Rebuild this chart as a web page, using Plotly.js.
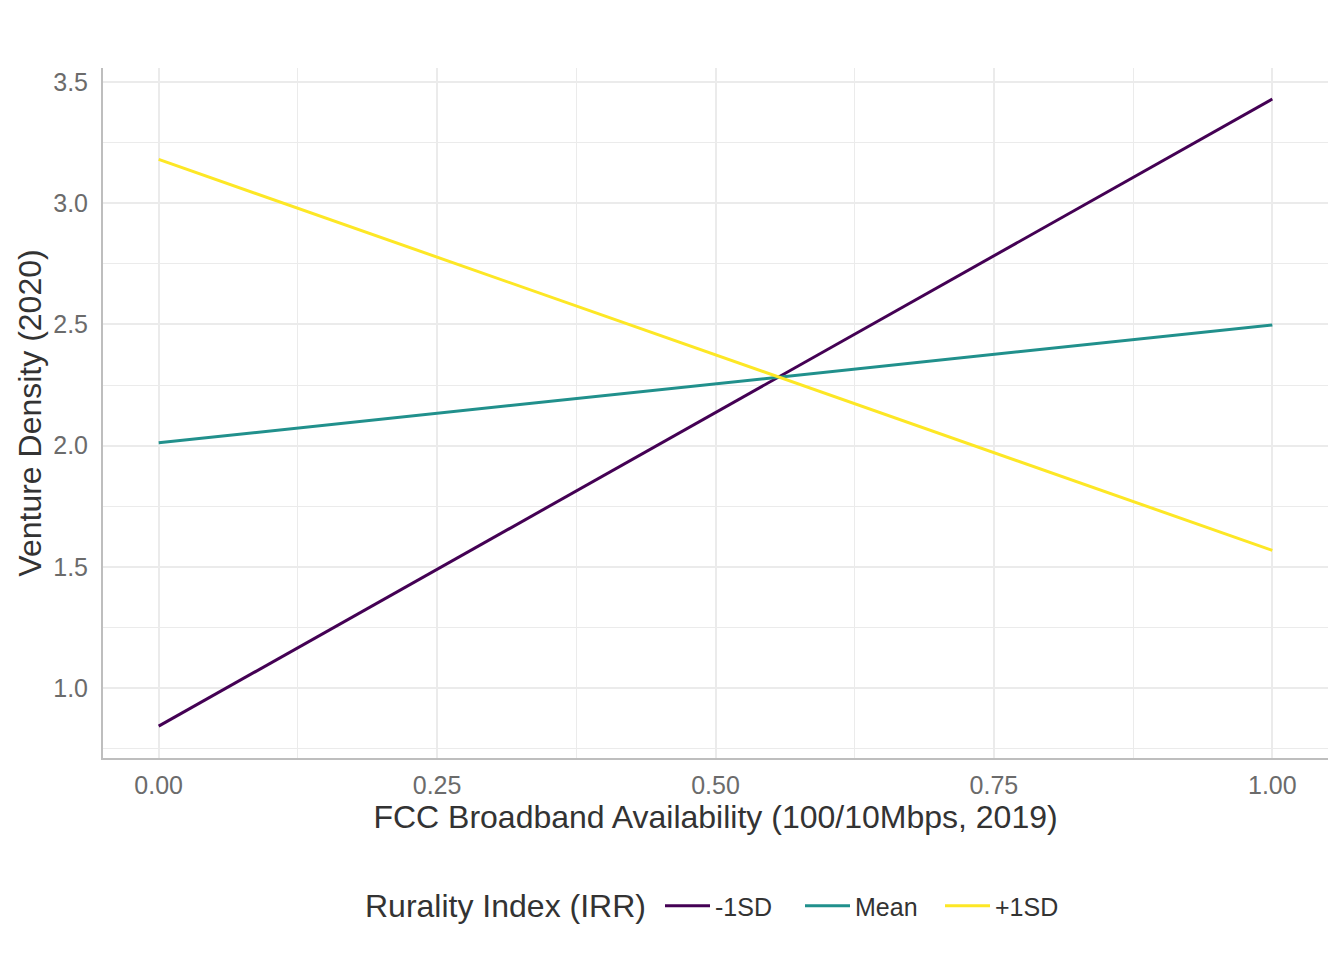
<!DOCTYPE html>
<html>
<head>
<meta charset="utf-8">
<script src="https://cdn.plot.ly/plotly-3.0.1.min.js"></script>
<style>html,body{margin:0;padding:0;background:#fff;} #chart{width:1344px;height:960px;}</style>
</head>
<body>
<div id="chart"></div>
<script>
// Data
const broadband = [0, 1];
const seriesNames = ["-1SD", "Mean", "+1SD"];
const lowSD = [0.843, 3.43];
const meanSD = [2.012, 2.498];
const highSD = [3.181, 1.568];
const seriesColors = ["#440154", "#21908C", "#FDE725"];
const xTicks = [0, 0.25, 0.5, 0.75, 1];
const xTickLabels = ["0.00", "0.25", "0.50", "0.75", "1.00"];
const yTicks = [1.0, 1.5, 2.0, 2.5, 3.0, 3.5];
const yTickLabels = ["1.0", "1.5", "2.0", "2.5", "3.0", "3.5"];
const legendTitle = "Rurality Index (IRR)";

const values = [lowSD, meanSD, highSD];
const traces = values.map((v, i) => ({
  x: broadband,
  y: v,
  type: "scatter",
  mode: "lines",
  name: seriesNames[i],
  line: {color: seriesColors[i], width: 3}
}));

const font = "Liberation Sans, Arial, Helvetica, sans-serif";
const layout = {
  width: 1344,
  height: 960,
  paper_bgcolor: "#ffffff",
  plot_bgcolor: "#ffffff",
  margin: {l: 103, r: 16, t: 68, b: 202},
  font: {family: font, color: "#4d4d4d"},
  xaxis: {
    range: [-0.05, 1.05],
    tickvals: xTicks,
    ticktext: xTickLabels,
    ticks: "",
    ticklabelstandoff: 4,
    tickfont: {size: 25, color: "#6b6b6b", family: font},
    showgrid: true,
    gridcolor: "#ebebeb",
    gridwidth: 2,
    minor: {dtick: 0.125, showgrid: true, gridcolor: "#ebebeb", gridwidth: 1, ticks: ""},
    zeroline: false,
    showline: true,
    linecolor: "#bebebe",
    linewidth: 2,
    title: {text: "FCC Broadband Availability (100/10Mbps, 2019)", font: {size: 32, color: "#333333", family: font}, standoff: 6}
  },
  yaxis: {
    range: [0.7115, 3.558],
    tickvals: yTicks,
    ticktext: yTickLabels,
    ticks: "",
    ticklabelstandoff: 8,
    tickfont: {size: 25, color: "#6b6b6b", family: font},
    showgrid: true,
    gridcolor: "#ebebeb",
    gridwidth: 2,
    minor: {dtick: 0.25, showgrid: true, gridcolor: "#ebebeb", gridwidth: 1, ticks: ""},
    zeroline: false,
    showline: true,
    linecolor: "#bebebe",
    linewidth: 2,
    title: {text: "Venture Density (2020)", font: {size: 32, color: "#333333", family: font}, standoff: 2}
  },
  annotations: [{
    text: legendTitle,
    xref: "paper", yref: "paper",
    x: (505 - 103) / 1225, y: (758 - 906) / 690,
    xanchor: "center", yanchor: "middle",
    showarrow: false,
    font: {size: 32, color: "#333333", family: font}
  }],
  showlegend: true,
  legend: {
    orientation: "h",
    x: (660 - 103) / 1225,
    xanchor: "left",
    y: (758 - 906) / 690,
    yanchor: "middle",
    font: {size: 25, color: "#333333", family: font},
    itemwidth: 45,
    entrywidth: 80,
    entrywidthmode: "pixels",
    traceorder: "normal"
  }
};

Plotly.newPlot("chart", traces, layout, {displayModeBar: false, staticPlot: true});
</script>
</body>
</html>
